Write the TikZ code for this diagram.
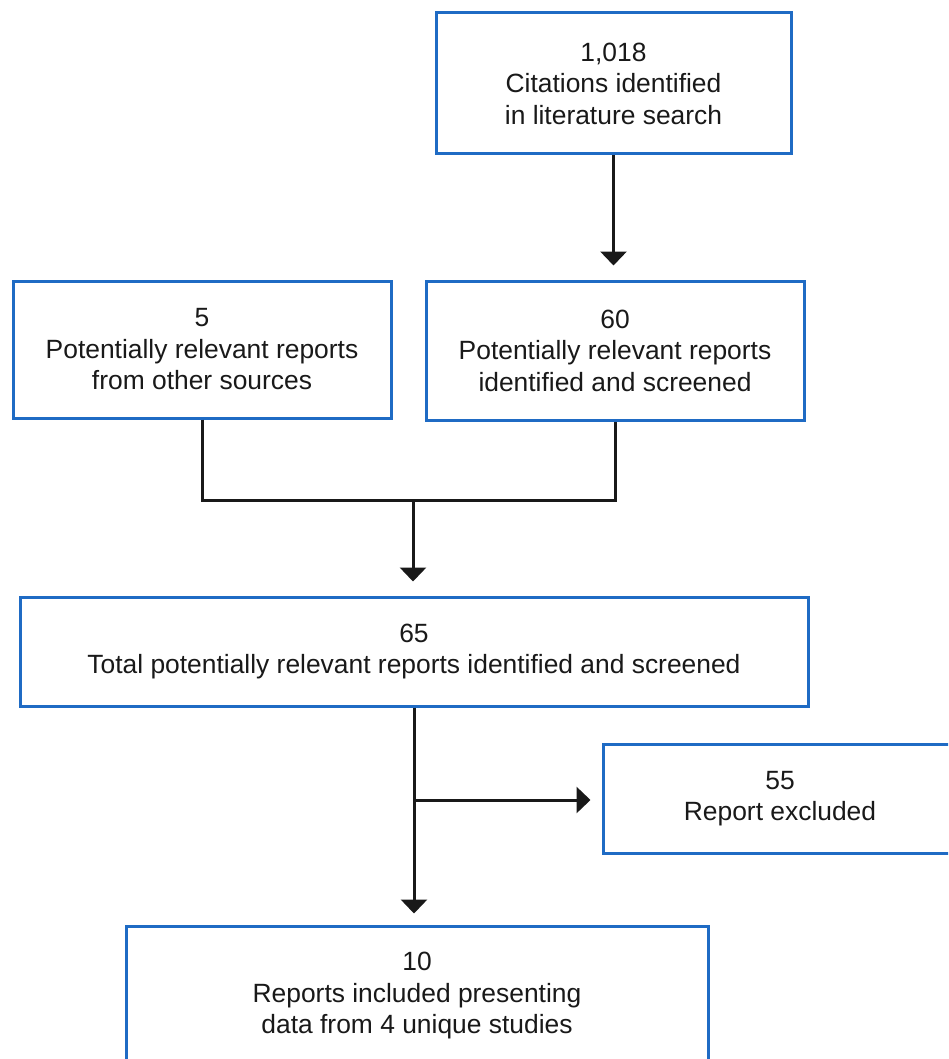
\documentclass[tikz,border=0pt]{standalone}
\usepackage{fontspec}
\setmainfont{Liberation Sans}
\usetikzlibrary{arrows.meta,calc}
\definecolor{boxblue}{HTML}{1F6BC4}
\begin{document}
\begin{tikzpicture}[x=1pt,y=-1pt,
  box/.style={draw=boxblue,line width=3pt,fill=white,align=center,inner sep=0pt,
    font=\fontsize{26.4}{31.5}\selectfont,text=black!90},
  conn/.style={line width=3pt,black!90},
  arr/.style={conn,-{Triangle[width=26pt,length=14pt]}}]
\useasboundingbox (0,0) rectangle (948,1059);
\begin{scope}
\clip (0,0) rectangle (948,1059);
\node[box,minimum width=355pt,minimum height=141pt] (cit) at (613.5,83.5)
  {1,018\\Citations identified\\in literature search};
\node[box,minimum width=378pt,minimum height=137pt] (oth) at (202,349.5)
  {5\\Potentially relevant reports\\from other sources};
\node[box,minimum width=378pt,minimum height=139pt] (scr) at (615,350.5)
  {60\\Potentially relevant reports\\identified and screened};
\node[box,minimum width=788pt,minimum height=109pt] (tot) at (414,651.5)
  {65\\Total potentially relevant reports identified and screened};
\node[box,minimum width=354pt,minimum height=109pt] (exc) at (780,798.5)
  {55\\Report excluded};
\node[box,minimum width=582pt,minimum height=140pt] (inc) at (417,996)
  {10\\Reports included presenting\\data from 4 unique studies};
\coordinate (mrg) at (413,500);
\coordinate (brn) at (414,800);
\draw[arr,shorten >=14pt] (cit.south) -- (cit.south |- scr.north);
\draw[conn] (oth.south) |- (mrg) -| (scr.south);
\draw[arr,shorten >=14pt] (mrg) -- (mrg |- tot.north);
\draw[arr,shorten >=11pt] (tot.south) -- (tot.south |- inc.north);
\draw[arr,shorten >=11pt] (brn) -- (brn -| exc.west);
\end{scope}
\end{tikzpicture}
\end{document}
